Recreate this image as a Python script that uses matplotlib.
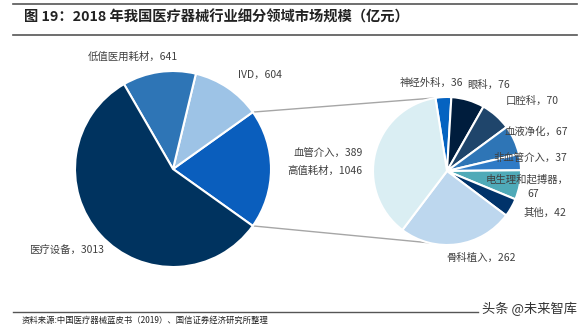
import numpy as np
import matplotlib.pyplot as plt

plt.rcParams['font.family'] = ['Noto Sans CJK SC', 'DejaVu Sans']

# main pie (亿元), counter-clockwise starting with 高值耗材
main_labels = ["高值耗材", "IVD", "低值医用耗材", "医疗设备"]
main_values = [1046, 604, 641, 3013]
main_colors = ["#0A5EBD", "#9DC3E6", "#2E75B6", "#00335F"]

# breakdown of 高值耗材, clockwise starting at the top
sub_labels = ["神经外科", "眼科", "口腔科", "血液净化", "非血管介入",
              "电生理和起搏器", "其他", "骨科植入", "血管介入"]
sub_values = [36, 76, 70, 67, 37, 67, 42, 262, 389]
sub_colors = ["#0563C1", "#001D3D", "#1F456B", "#2E75B6", "#2F7BC6",
              "#4FAAB8", "#00336A", "#BDD7EE", "#DAEEF3"]

W, H = 586, 329
fig = plt.figure(figsize=(W / 100, H / 100), dpi=100)
ax = fig.add_axes([0, 0, 1, 1])

def P(x, y):
    # pixel coords (y down) -> axes data coords
    return x, H - y

main_c, main_r = P(173, 169), 98
sub_c, sub_r = P(447, 171), 74

start = -360 * main_values[0] / sum(main_values) / 2
ax.pie(main_values, colors=main_colors, center=main_c, radius=main_r,
       startangle=start, counterclock=True, frame=True,
       wedgeprops=dict(edgecolor="white", linewidth=1.5))
ax.pie(sub_values, colors=sub_colors, center=sub_c, radius=sub_r,
       startangle=99, counterclock=False, frame=True,
       wedgeprops=dict(edgecolor="white", linewidth=1.5))

# connector lines
a = np.deg2rad(start)
for sgn, ang2 in [(1, 99), (-1, 256)]:
    x1 = main_c[0] + main_r * np.cos(a)
    y1 = main_c[1] - sgn * main_r * np.sin(a)
    x2 = sub_c[0] + sub_r * np.cos(np.deg2rad(ang2))
    y2 = sub_c[1] + sub_r * np.sin(np.deg2rad(ang2))
    ax.plot([x1, x2], [y1, y2], color="#A6A6A6", lw=1.0, zorder=0)

fs = 7.5
tc = "#404040"
def lab(x, y, s, ha="center"):
    ax.text(*P(x, y), s, fontsize=fs, color=tc, ha=ha, va="center")

lab(133, 57, f"{main_labels[2]}，{main_values[2]}")
lab(260, 75, f"{main_labels[1]}，{main_values[1]}")
lab(66, 250, f"{main_labels[3]}，{main_values[3]}")
lab(363, 171, f"{main_labels[0]}，{main_values[0]}", ha="right")
lab(363, 153, f"{sub_labels[8]}，{sub_values[8]}", ha="right")

lab(431, 83, f"{sub_labels[0]}，{sub_values[0]}")
lab(489, 85, f"{sub_labels[1]}，{sub_values[1]}")
lab(532, 101, f"{sub_labels[2]}，{sub_values[2]}")
lab(536, 132, f"{sub_labels[3]}，{sub_values[3]}")
lab(530, 158, f"{sub_labels[4]}，{sub_values[4]}")
lab(527, 179, f"{sub_labels[5]}，")
lab(533, 194, f"{sub_values[5]}")
lab(545, 213, f"{sub_labels[6]}，{sub_values[6]}")
lab(481, 258, f"{sub_labels[7]}，{sub_values[7]}")

# title block
ax.plot([13, 577], [H - 4, H - 4], color="#555555", lw=1.2)
ax.plot([13, 577], [H - 35, H - 35], color="#555555", lw=1.2)
ax.text(*P(24, 17), "图 19：2018 年我国医疗器械行业细分领域市场规模（亿元）",
        fontsize=10.3, fontweight="bold", color="#222222", ha="left", va="center")

# footer
ax.plot([13, 478], [H - 312, H - 312], color="#555555", lw=1.0)
ax.text(*P(22, 320), "资料来源:中国医疗器械蓝皮书（2019）、国信证券经济研究所整理",
        fontsize=6, color="#222222", ha="left", va="center")
ax.text(*P(529, 309), "头条 @未来智库", fontsize=9.5, color="#333333",
        ha="center", va="center")

ax.set_xlim(0, W)
ax.set_ylim(0, H)
ax.set_aspect("equal")
ax.set_axis_off()

fig.savefig("out.png", dpi=100)
